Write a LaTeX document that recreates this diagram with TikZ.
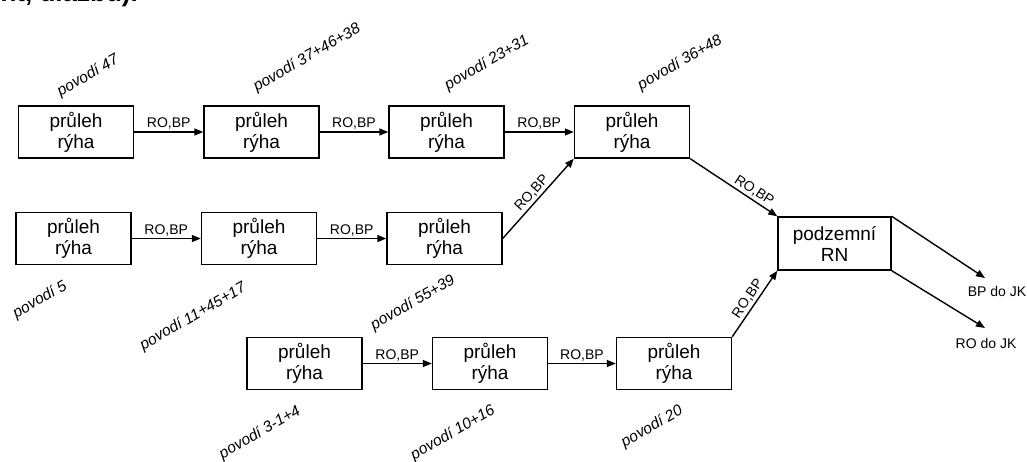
\documentclass[tikz,border=0pt]{standalone}
\usepackage{fontspec}
\setmainfont{Liberation Sans}
\usetikzlibrary{arrows.meta}
\tikzset{
  stage/.style={draw, line width=1.4pt, minimum width=115pt, minimum height=52pt,
    inner sep=0pt, align=center, font=\fontsize{19}{21}\selectfont},
  flow/.style={line width=1.4pt, -{Triangle[length=9pt,width=7pt]}},
  flowlabel/.style={font=\fontsize{14}{15}\selectfont, inner sep=2pt},
  basin/.style={font=\fontsize{15.5}{17}\selectfont\itshape, rotate=30, inner sep=0pt},
  outlet/.style={font=\fontsize{14}{16}\selectfont, inner sep=0pt}
}
\begin{document}
\begin{tikzpicture}[x=1pt,y=-1pt]
\useasboundingbox (0,0) rectangle (1027,461);
\fill[white] (0,0) rectangle (1027,461);

% clipped heading line above the scheme
\node[anchor=base east, inner sep=0pt, font=\fontsize{26}{28}\selectfont\bfseries] (head) at (138,1) {nt, dlažbu).};

% upper branch
\node[stage] (a1) at (76,132)    {průleh\\rýha};
\node[stage] (a2) at (261.5,132) {průleh\\rýha};
\node[stage] (a3) at (446.5,132) {průleh\\rýha};
\node[stage] (a4) at (632,132)   {průleh\\rýha};

% middle branch
\node[stage] (b1) at (73.5,238.5) {průleh\\rýha};
\node[stage] (b2) at (259,238.5)  {průleh\\rýha};
\node[stage] (b3) at (444.5,238.5){průleh\\rýha};

% lower branch
\node[stage] (c1) at (304.5,363.5) {průleh\\rýha};
\node[stage] (c2) at (490,363.5)   {průleh\\rýha};
\node[stage] (c3) at (674,363.5)   {průleh\\rýha};

% underground retention tank
\node[stage, minimum width=113pt, minimum height=53pt] (rn) at (834.5,243.5) {podzemní\\RN};

% basin labels
\node[basin] (p47)   at (88,76)   {povodí 47};
\node[basin] (p374)  at (307,58)  {povodí 37+46+38};
\node[basin] (p2331) at (487,63)  {povodí 23+31};
\node[basin] (p3648) at (680,63)  {povodí 36+48};
\node[basin] (p5)    at (40,300)  {povodí 5};
\node[basin] (p1145) at (193,317) {povodí 11+45+17};
\node[basin] (p5539) at (413,303) {povodí 55+39};
\node[basin] (p314)  at (260,433) {povodí 3-1+4};
\node[basin] (p1016) at (453,433) {povodí 10+16};
\node[basin] (p20)   at (652,427) {povodí 20};

% horizontal connections
\foreach \u/\v in {a1/a2,a2/a3,a3/a4,b1/b2,b2/b3,c1/c2,c2/c3}
  \draw[flow] (\u.east) -- node[flowlabel, above] {RO,BP} (\v.west);

% diagonal connections
\draw[flow] (b3.east) -- node[flowlabel, sloped, above] {RO,BP} (a4.south west);
\draw[flow] (a4.south east) -- node[flowlabel, sloped, above, pos=0.68] {RO,BP} (rn.north west);
\draw[flow] (c3.north east) -- node[flowlabel, sloped, above] {RO,BP} (rn.south west);

% outlets
\coordinate (bpend) at (985,278);
\coordinate (roend) at (985,328);
\draw[flow] (rn.north east) -- (bpend);
\draw[flow] (rn.south east) -- (roend);
\node[outlet] (bpjk) at (997,291) {BP do JK};
\node[outlet] (rojk) at (986,343) {RO do JK};
\end{tikzpicture}
\end{document}
